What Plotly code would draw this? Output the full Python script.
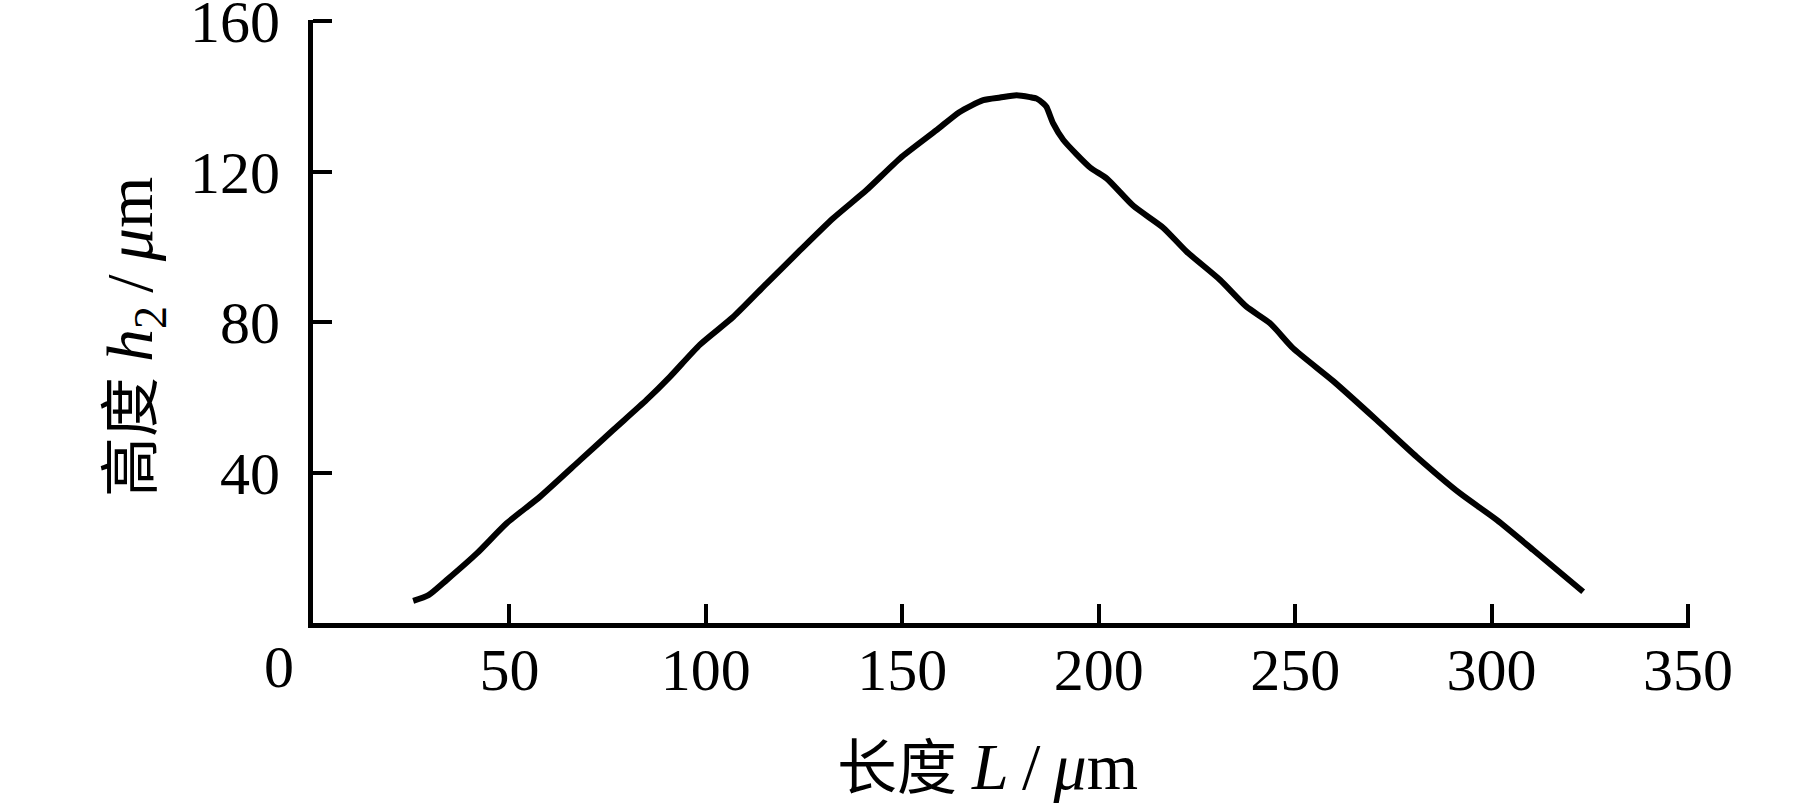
import plotly.graph_objects as go

# Profile data (length L in µm, height h2 in µm)
length_um = [25.5, 29.4, 34.0, 41.7, 49.3, 57.8, 68.0, 76.4, 84.9, 90.9,
             98.5, 107.0, 115.5, 124.0, 132.4, 140.9, 149.4, 158.7, 164.5, 170.6,
             174.9, 179.1, 182.5, 184.2, 185.9, 186.7, 188.4, 191.0, 197.8, 202.0,
             208.8, 216.4, 222.4, 230.9, 237.6, 243.6, 249.5, 259.7, 270.7, 280.9,
             291.9, 301.3, 310.6, 323.3]
height_um = [5.9, 7.4, 11.4, 18.5, 26.5, 33.6, 43.3, 51.3, 59.3, 65.5,
             74.0, 81.4, 90.3, 99.1, 107.6, 115.1, 123.5, 131.0, 135.8, 139.0,
             139.7, 140.3, 139.8, 139.4, 138.1, 137.2, 132.8, 128.4, 121.1, 118.2,
             110.9, 105.1, 98.7, 91.2, 84.1, 79.7, 73.0, 64.3, 54.0, 44.2,
             34.5, 27.4, 19.4, 8.3]

x_ticks = [50, 100, 150, 200, 250, 300, 350]
y_ticks = [40, 80, 120, 160]
x_title = "长度 <span style='font-size:66px'><i>L</i>\u2009/\u2009<i>μ</i>m</span>"
y_title = "高度 <span style='font-size:66px'><i>h</i><sub>2</sub>\u2009/\u2009<i>μ</i>m</span>"

FONT = "Liberation Serif, Noto Sans CJK SC, serif"

fig = go.Figure()
fig.add_trace(go.Scatter(
    x=length_um, y=height_um, mode="lines",
    line=dict(color="black", width=6, shape="spline", smoothing=0.6),
    showlegend=False, hoverinfo="skip", cliponaxis=False,
))

axis_common = dict(
    showline=True, linecolor="black", linewidth=5,
    ticks="inside", ticklen=19, tickwidth=4, tickcolor="black",
    showgrid=False, zeroline=False, ticklabeloverflow="allow",
    automargin=False,
    tickfont=dict(family=FONT, size=60, color="black"),
)

fig.update_layout(
    width=1819, height=807,
    margin=dict(l=313, r=129, t=20, b=184),
    paper_bgcolor="white", plot_bgcolor="white",
    font=dict(family=FONT, color="black"),
    xaxis=dict(range=[0, 350.5], tickvals=x_ticks, ticktext=[str(v) for v in x_ticks],
               ticklabelstandoff=-10, **axis_common),
    yaxis=dict(range=[0, 160.3], tickvals=y_ticks, ticktext=[str(v) for v in y_ticks],
               ticklabelstandoff=16, **axis_common),
)

# Axis titles
fig.add_annotation(x=0.4895, y=0, xref="paper", yref="paper", text=x_title,
                   showarrow=False, xanchor="center", yanchor="middle", yshift=-143,
                   font=dict(family=FONT, size=60, color="black"))
fig.add_annotation(x=0, y=0.4743, xref="paper", yref="paper", text=y_title,
                   showarrow=False, xanchor="center", yanchor="middle", xshift=-178,
                   textangle=-90, font=dict(family=FONT, size=60, color="black"))

# Origin label "0" sits below-left of the corner
fig.add_annotation(x=0, y=0, xref="x", yref="y", text="0", showarrow=False,
                   xanchor="right", yanchor="middle", xshift=-17, yshift=-44,
                   font=dict(family=FONT, size=60, color="black"))

fig.write_html("out.html", config={"displayModeBar": False},
               post_script="document.body.style.margin='0';document.body.style.overflow='hidden';")
